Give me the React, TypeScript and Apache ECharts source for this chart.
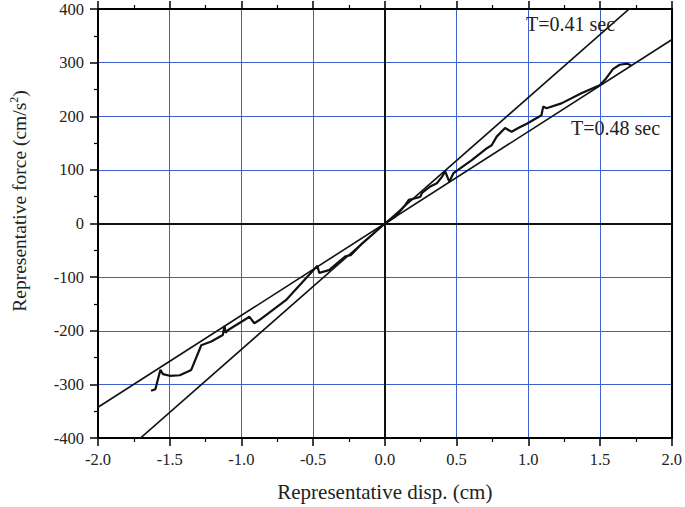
import React, { useEffect, useRef } from "react";
import * as echarts from "echarts";

// Hysteresis curve: displacement (cm) and force (cm/s^2)
const curveX = [
  -1.63, -1.6, -1.565, -1.547, -1.5, -1.43, -1.35, -1.28, -1.21, -1.13, -1.118, -1.11, -1.095,
  -0.944, -0.91, -0.875, -0.69, -0.47, -0.458, -0.389, -0.319, -0.273, -0.238, -0.157, -0.088,
  0.0, 0.074, 0.144, 0.167, 0.213, 0.248, 0.259, 0.317, 0.363, 0.398, 0.421, 0.449, 0.479,
  0.606, 0.71, 0.745, 0.78, 0.838, 0.884, 0.93, 0.99, 1.092, 1.104, 1.127, 1.231, 1.37,
  1.498, 1.544, 1.59, 1.637, 1.69, 1.717,
];
const curveY = [
  -312, -309, -273, -281, -284, -283, -273, -227, -220, -208, -191, -204, -199,
  -174, -186, -180, -143, -79, -92, -87, -71, -61, -59, -37, -21,
  0, 13, 35, 44, 47, 50, 57, 69, 75, 87, 97, 78, 94,
  118, 140, 146, 162, 178, 171, 178, 186, 202, 218, 215, 224, 243,
  258, 271, 288, 296, 298, 295,
];

// Equivalent linear stiffness lines labelled by period
const periods = [0.41, 0.48];
const periodLabels = ["T=0.41 sec", "T=0.48 sec"];
const lineXRange = [-2, 2];

const xTicks = [-2.0, -1.5, -1.0, -0.5, 0.0, 0.5, 1.0, 1.5, 2.0];
const yTicks = [-400, -300, -200, -100, 0, 100, 200, 300, 400];

const xTitle = "Representative disp. (cm)";
const yTitle = "Representative force (cm/s{sup|2})";

export default function App() {
  const ref = useRef<HTMLDivElement>(null);
  useEffect(() => {
    if (!ref.current) return;
    const chart = echarts.init(ref.current, null, { renderer: "svg" });
    const font = "Liberation Serif";
    const blue = "#3f5fcf";
    const stiffLines = periods.map((T) => {
      const k = Math.pow((2 * Math.PI) / T, 2);
      return lineXRange.map((x) => [x, k * x]);
    });
    const curve = curveX.map((x, i) => [x, curveY[i]]);
    const baseX = {
      min: xTicks[0],
      max: xTicks[xTicks.length - 1],
      interval: 0.5,
      axisLine: { onZero: false, lineStyle: { color: "#000", width: 2 } },
      axisTick: { show: true, inside: false, length: 8, lineStyle: { color: "#000", width: 1.5 } },
      minorTick: { show: true, splitNumber: 2, length: 4, lineStyle: { color: "#000", width: 1.2 } },
    };
    const baseY = {
      min: yTicks[0],
      max: yTicks[yTicks.length - 1],
      interval: 100,
      axisLine: { onZero: false, lineStyle: { color: "#000", width: 2 } },
      axisTick: { show: true, inside: false, length: 8, lineStyle: { color: "#000", width: 1.5 } },
      minorTick: { show: true, splitNumber: 2, length: 4, lineStyle: { color: "#000", width: 1.2 } },
    };
    chart.setOption({
      animation: false,
      backgroundColor: "#fff",
      grid: { left: 98, right: 11, top: 9, bottom: 68, containLabel: false },
      xAxis: [
        {
          ...baseX,
          type: "value",
          position: "bottom",
          name: xTitle,
          nameLocation: "middle",
          nameGap: 43,
          nameTextStyle: { fontFamily: font, fontSize: 21, color: "#222" },
          axisLabel: {
            margin: 13,
            fontFamily: font,
            fontSize: 16.5,
            color: "#222",
            formatter: (v: number) => v.toFixed(1),
          },
          splitLine: { show: true, lineStyle: { color: blue, width: 1 } },
        },
        {
          ...baseX,
          type: "value",
          position: "top",
          axisLabel: { show: false },
          splitLine: { show: false },
        },
      ],
      yAxis: [
        {
          ...baseY,
          type: "value",
          position: "left",
          axisLabel: { margin: 14, fontFamily: font, fontSize: 16.5, color: "#222" },
          splitLine: { show: true, lineStyle: { color: blue, width: 1 } },
        },
        {
          ...baseY,
          type: "value",
          position: "right",
          axisTick: { show: false },
          minorTick: { show: false },
          axisLabel: { show: false },
          splitLine: { show: false },
        },
      ],
      series: [
        {
          type: "line",
          data: stiffLines[0],
          showSymbol: false,
          clip: true,
          lineStyle: { color: "#111", width: 1.6 },
          silent: true,
          z: 3,
          markLine: {
            silent: true,
            symbol: "none",
            label: { show: false },
            lineStyle: { color: "#111", width: 2, type: "solid" },
            data: [{ xAxis: 0 }, { yAxis: 0 }],
          },
        },
        {
          type: "line",
          data: stiffLines[1],
          showSymbol: false,
          clip: true,
          lineStyle: { color: "#111", width: 1.6 },
          silent: true,
          z: 3,
        },
        {
          type: "line",
          data: curve,
          showSymbol: false,
          clip: true,
          lineStyle: { color: "#111", width: 2.2 },
          silent: true,
          z: 4,
        },
      ],
      graphic: [
        {
          type: "text",
          x: 19,
          y: 201,
          rotation: Math.PI / 2,
          style: {
            text: yTitle,
            fontFamily: font,
            fontSize: 19.5,
            fill: "#222",
            align: "center",
            verticalAlign: "middle",
            rich: {
              sup: { fontFamily: font, fontSize: 12, fill: "#222", verticalAlign: "top", padding: [0, 0, 10, 0] },
            },
          },
          z: 10,
        },
        {
          type: "text",
          left: 526,
          top: 14,
          style: { text: periodLabels[0], fontFamily: font, fontSize: 20, fill: "#222" },
          z: 10,
        },
        {
          type: "text",
          left: 571,
          top: 118,
          style: { text: periodLabels[1], fontFamily: font, fontSize: 20, fill: "#222" },
          z: 10,
        },
      ],
    });
    return () => chart.dispose();
  }, []);
  return <div ref={ref} style={{ width: 685, height: 507, position: "absolute", left: 0, top: 0 }} />;
}
